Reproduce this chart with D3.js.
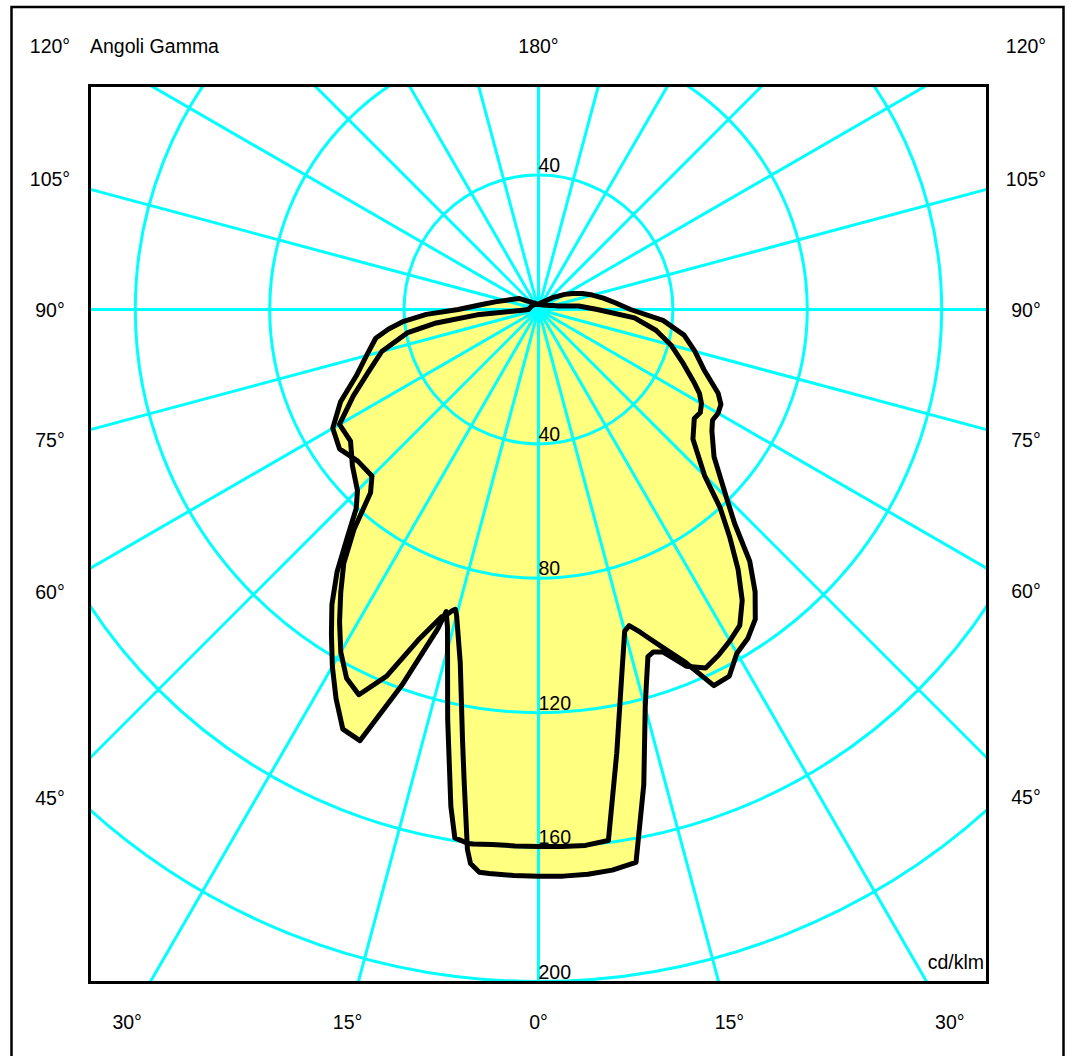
<!DOCTYPE html>
<html><head><meta charset="utf-8">
<script src="https://cdn.jsdelivr.net/npm/d3@7"></script>
<style>
body{margin:0;background:#fff;}
svg{display:block;}
text{font-family:"Liberation Sans",Arial,Helvetica,sans-serif;font-size:19.5px;fill:#000;}
</style>
</head><body>
<svg id="chart" width="1072" height="1056"></svg>
<script>
// gamma angles (deg, 0 = nadir, negative = left half-plane)
const gammaAngles = [-180,-170,-160,-150,-140,-130,-120,-110,-100,-95,-90,-87.5,-85,-82.5,-80,-75,-70,-65,-60,-55,-50,-45,-42.5,-40,-37.5,-35,-32.5,-30,-27.5,-25,-22.5,-20,-17.5,-17,-16,-15.5,-15,-12.5,-10,-9,-7.5,-7,-6,-5,-2.5,0,2.5,5,7.5,10,12.5,15,16,17.5,18.5,20,22.5,25,27.5,30,32.5,35,37.5,40,42.5,45,50,55,57.5,60,62.5,65,70,75,80,85,90,95,100,105,110,115,120,125,130,140,150,160,170,180];
// intensity cd/klm, plane A
const planeA = [1.5,1.6,1.8,2.2,2.7,3.8,6.5,8.7,13.1,16.9,23.9,33.4,40.3,45.1,49.2,53.0,57.7,65.0,70.7,72.3,70.2,70.1,74.0,85.4,95.2,102.6,110.2,117.7,123.7,126.5,118.1,104.7,95.9,95.5,93.3,92.6,94.2,107.6,130.2,141.6,162.1,166.1,168.4,168.5,168.6,168.7,168.8,168.7,168.3,167.1,144.8,122.7,116.4,108.3,107.5,108.5,114.9,117.7,116.0,113.9,111.5,105.7,97.6,88.6,80.0,69.9,60.0,56.6,57.1,56.0,54.0,51.0,45.5,40.8,35.5,28.7,17.5,12.0,6.0,4.5,3.5,3.0,2.6,2.3,2.0,1.8,1.6,1.5,1.5,1.5];
// intensity cd/klm, plane B
const planeB = [1.5,1.5,1.6,1.7,1.9,2.0,2.2,2.4,2.6,2.8,3.0,4.9,18.3,30.7,39.5,48.3,53.7,60.8,68.4,68.3,72.3,76.2,80.3,88.5,98.5,107.2,114.7,122.7,130.5,137.8,138.9,119.1,99.6,94.0,98.3,101.3,104.6,124.9,150.2,159.2,160.3,160.3,160.0,159.8,159.8,159.8,160.0,160.1,159.4,134.1,113.8,99.1,97.9,100.7,103.0,106.7,113.4,123.5,123.0,118.1,116.0,112.5,105.9,97.8,86.4,79.1,68.2,63.0,61.4,61.7,61.2,59.0,52.4,48.2,44.0,37.2,27.4,22.9,19.6,16.6,13.9,11.3,9.0,6.8,5.6,3.5,2.6,2.1,1.8,1.5];

const ringValues = [40, 80, 120, 160, 200];
const ringLabelsBottom = [40, 80, 120, 160, 200];
const ringLabelsTop = [40];
const rayAngles = d3.range(0, 360, 15);
const angleLabels = [-120,-105,-90,-75,-60,-45,-30,-15,0,15,30,45,60,75,90,105,120,180];
const titleText = "Angoli Gamma";
const unitText = "cd/klm";

const svg = d3.select("#chart");
const plot = {x0: 89.5, y0: 85.5, x1: 987.5, y1: 982.5};
const cx = 538.5, cy = 309.5;
const r = d3.scaleLinear().domain([0, 200]).range([0, 672]);
const rad = g => g * Math.PI / 180;

// outer frame
svg.append("rect").attr("x", 11.5).attr("y", 7).attr("width", 1052).attr("height", 1100)
  .attr("fill", "#fff").attr("stroke", "#000").attr("stroke-width", 2.5);

svg.append("defs").append("clipPath").attr("id", "plotClip")
  .append("rect").attr("x", plot.x0).attr("y", plot.y0)
  .attr("width", plot.x1 - plot.x0).attr("height", plot.y1 - plot.y0);

const clipG = svg.append("g").attr("clip-path", "url(#plotClip)");
const g = clipG.append("g").attr("transform", `translate(${cx},${cy})`);

const line = d3.lineRadial()
  .angle((d, i) => Math.PI - rad(gammaAngles[i]))
  .radius(d => r(d))
  .curve(d3.curveLinearClosed);

const series = [planeA, planeB];

// fills
g.selectAll("path.fill").data(series).join("path")
  .attr("class", "fill").attr("d", line)
  .attr("fill", "#ffff80").attr("stroke", "none");

// grid rays
g.selectAll("line.ray").data(rayAngles).join("line")
  .attr("class", "ray")
  .attr("x1", 0).attr("y1", 0)
  .attr("x2", a => 1400 * Math.sin(rad(a)))
  .attr("y2", a => 1400 * Math.cos(rad(a)))
  .attr("stroke", "#00ffff").attr("stroke-width", 3);

// grid rings
g.selectAll("circle.ring").data(ringValues).join("circle")
  .attr("class", "ring").attr("r", d => r(d))
  .attr("fill", "none").attr("stroke", "#00ffff").attr("stroke-width", 3);

// curve outlines
g.selectAll("path.curve").data(series).join("path")
  .attr("class", "curve").attr("d", line)
  .attr("fill", "none").attr("stroke", "#000").attr("stroke-width", 5)
  .attr("stroke-linejoin", "round");

// ring labels
g.selectAll("text.rb").data(ringLabelsBottom).join("text")
  .attr("class", "rb").attr("x", 0).attr("y", d => r(d) - 3).text(d => d);
g.selectAll("text.rt").data(ringLabelsTop).join("text")
  .attr("class", "rt").attr("x", 0).attr("y", d => -r(d) - 3).text(d => d);

// inner frame
svg.append("rect").attr("x", plot.x0).attr("y", plot.y0)
  .attr("width", plot.x1 - plot.x0).attr("height", plot.y1 - plot.y0)
  .attr("fill", "none").attr("stroke", "#000").attr("stroke-width", 3);

// angle labels
const sideL = 50, sideR = 1026, topY = 46, botY = 1022;
function labelPos(a) {
  if (a === 180) return [cx, topY];
  if (Math.abs(a) < 45) return [cx + (botY - cy) * Math.tan(rad(a)), botY];
  const sx = a < 0 ? sideL : sideR;
  const dx = Math.abs(sx - cx);
  let y = cy + dx * Math.cos(rad(a)) / Math.abs(Math.sin(rad(a)));
  return [sx, Math.max(topY, y)];
}
svg.selectAll("text.al").data(angleLabels).join("text")
  .attr("class", "al")
  .attr("x", a => labelPos(a)[0])
  .attr("y", a => labelPos(a)[1])
  .attr("text-anchor", "middle").attr("dominant-baseline", "central")
  .text(a => Math.abs(a) + "°");

svg.append("text").attr("x", 90).attr("y", 53).text(titleText);
svg.append("text").attr("x", 984).attr("y", 969).attr("text-anchor", "end").text(unitText);
</script>
</body></html>
